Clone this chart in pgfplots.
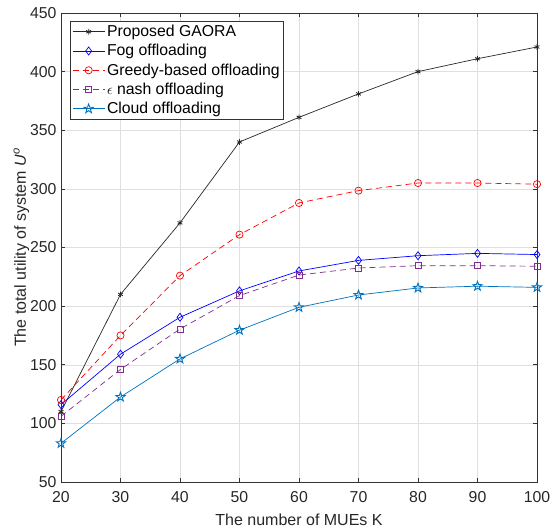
\documentclass[border=0pt]{standalone}
\usepackage{fontspec}
\setmainfont{Liberation Sans}
\usepackage{pgfplots}
\pgfplotsset{compat=1.18}
\usetikzlibrary{calc}
\definecolor{gaora}{rgb}{0.15,0.15,0.15}
\definecolor{nash}{rgb}{0.494,0.184,0.556}
\definecolor{cloud}{rgb}{0,0.447,0.741}
\pgfdeclareplotmark{pentagram}{%
  \pgfpathmoveto{\pgfpointpolar{90}{\pgfplotmarksize}}%
  \pgfpathlineto{\pgfpointpolar{126}{0.4\pgfplotmarksize}}%
  \pgfpathlineto{\pgfpointpolar{162}{\pgfplotmarksize}}%
  \pgfpathlineto{\pgfpointpolar{198}{0.4\pgfplotmarksize}}%
  \pgfpathlineto{\pgfpointpolar{234}{\pgfplotmarksize}}%
  \pgfpathlineto{\pgfpointpolar{270}{0.4\pgfplotmarksize}}%
  \pgfpathlineto{\pgfpointpolar{306}{\pgfplotmarksize}}%
  \pgfpathlineto{\pgfpointpolar{342}{0.4\pgfplotmarksize}}%
  \pgfpathlineto{\pgfpointpolar{18}{\pgfplotmarksize}}%
  \pgfpathlineto{\pgfpointpolar{54}{0.4\pgfplotmarksize}}%
  \pgfpathclose
  \pgfusepathqstroke}
\begin{document}
\begin{tikzpicture}
\begin{axis}[
  scale only axis,
  width=476pt, height=469pt,
  xmin=20, xmax=100, ymin=50, ymax=450,
  xtick={20,30,...,100}, ytick={50,100,...,450},
  tick align=inside,
  major tick length=4pt,
  grid=major,
  grid style={draw=gray!25, line width=0.5pt},
  axis line style={draw=black!80, line width=0.6pt},
  tick style={draw=black!80, line width=0.6pt},
  /pgf/number format/assume math mode=true,
  tick label style={font=\fontsize{15.8}{18}\selectfont, text=black!85},
  xticklabel style={yshift=-6pt},
  yticklabel style={xshift=-1pt},
  label style={font=\fontsize{16}{19}\selectfont, text=black!85},
  xlabel={The number of MUEs K},
  ylabel={The total utility of system \textit{U}\textsuperscript{\textit{o}}},
  xlabel style={yshift=-4pt},
  ylabel style={yshift=-6pt},
  legend style={at={(0,1)}, anchor=north west, xshift=9pt, yshift=-8pt,
    font=\fontsize{15.8}{18}\selectfont, draw=black!80, line width=0.6pt,
    row sep=2.3pt, inner sep=2pt, cells={anchor=west}},
  legend cell align=left,
  legend image code/.code={\draw[mark repeat=2,mark phase=2] plot coordinates {(0pt,0pt) (16pt,0pt) (32pt,0pt)};},
  every axis plot/.append style={line width=0.7pt, mark size=3.5pt},
]
\addplot[color=gaora, mark=asterisk, mark options={solid, line width=0.8pt, mark size=2.8pt}] coordinates {
(20,110) (30,210) (40,271) (50,340) (60,361) (70,381) (80,400) (90,411) (100,421)};
\addlegendentry{Proposed GAORA}
\addplot[color=blue, mark=diamond, mark options={solid, mark size=4pt}] coordinates {
(20,116) (30,159) (40,190.5) (50,213) (60,230) (70,239) (80,243) (90,245) (100,244)};
\addlegendentry{Fog offloading}
\addplot[color=red, dash pattern=on 6pt off 4pt, mark=o, mark options={solid, mark size=3.6pt}] coordinates {
(20,120) (30,175) (40,226) (50,261) (60,288) (70,298.5) (80,305) (90,305) (100,304)};
\addlegendentry{Greedy-based offloading}
\addplot[color=nash, dash pattern=on 6pt off 4pt, mark=square, mark options={solid, mark size=3pt}] coordinates {
(20,106) (30,146) (40,180.5) (50,209) (60,226.5) (70,232.5) (80,234.5) (90,234.5) (100,234)};
\addlegendentry{$\epsilon$ nash offloading}
\addplot[color=cloud, mark=pentagram, mark options={solid, mark size=4.8pt, line width=0.9pt}] coordinates {
(20,83) (30,122.5) (40,155) (50,179.5) (60,199) (70,209.5) (80,215.5) (90,217) (100,216)};
\addlegendentry{Cloud offloading}
\end{axis}
\pgfresetboundingbox
\path[use as bounding box] ($(current axis.south west)+(-61pt,-47pt)$) rectangle ($(current axis.north east)+(22pt,13pt)$);
\end{tikzpicture}
\end{document}
